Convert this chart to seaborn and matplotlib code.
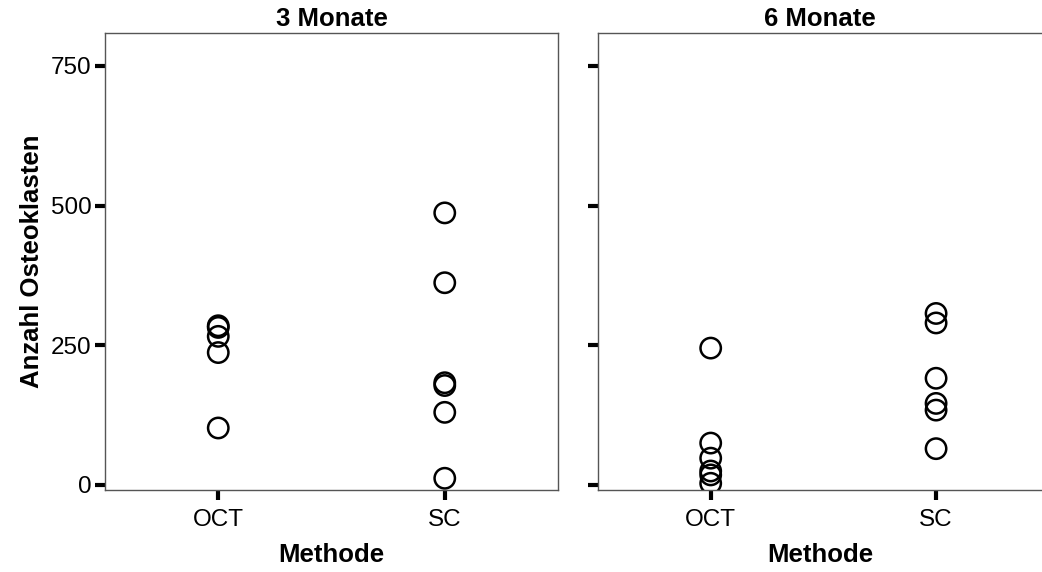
import matplotlib
matplotlib.use("Agg")
import matplotlib.pyplot as plt
import seaborn as sns
import pandas as pd

sns.set_style("white")
plt.rcParams['font.family'] = ['Liberation Sans', 'DejaVu Sans']

panels = ["3 Monate", "6 Monate"]
methods = ["OCT", "SC"]
oct_3 = [285, 282, 266, 237, 102]
sc_3 = [487, 362, 183, 178, 130, 12]
oct_6 = [245, 75, 48, 25, 18, 3]
sc_6 = [307, 290, 191, 146, 134, 65]
yticks = [0, 250, 500, 750]

rows = []
for p, o, s in [(panels[0], oct_3, sc_3), (panels[1], oct_6, sc_6)]:
    rows += [(p, methods[0], v) for v in o]
    rows += [(p, methods[1], v) for v in s]
df = pd.DataFrame(rows, columns=["Zeit", "Methode", "Anzahl"])

W, H = 1042, 572
fig = plt.figure(figsize=(W / 100, H / 100), dpi=100)
boxes = [(105, 558), (598, 1042)]
xlims = [(-0.5, 1.5), (-0.5, 1.47)]
top, bottom = 33, 490
for i, (p, (l, r)) in enumerate(zip(panels, boxes)):
    ax = fig.add_axes([l / W, 1 - bottom / H, (r - l) / W, (bottom - top) / H])
    sub = df[df["Zeit"] == p]
    sns.scatterplot(data=sub, x="Methode", y="Anzahl", ax=ax, s=215,
                    facecolor="none", edgecolor="black", linewidth=1.8)
    ax.set_xlim(*xlims[i])
    ax.set_ylim(-9, 809)
    ax.set_yticks(yticks)
    ax.set_xticks([0, 1])
    ax.set_xticklabels(methods)
    for sp in ax.spines.values():
        sp.set_color("#555555")
        sp.set_linewidth(1.0)
    if i == 1:
        ax.spines["right"].set_visible(False)
        ax.set_yticklabels([])
        ax.set_ylabel("")
    else:
        ax.set_ylabel("Anzahl Osteoklasten", fontsize=18.5, fontweight="bold",
                      color="black", labelpad=5)
    ax.tick_params(axis="y", which="major", direction="out", length=7.5, width=3,
                   color="black", labelsize=17.5, labelcolor="black", pad=2, left=True)
    ax.tick_params(axis="x", which="major", direction="out", length=7.5, width=3,
                   color="black", labelsize=17.5, labelcolor="black", pad=6, bottom=True)
    ax.set_xlabel("Methode", fontsize=18.5, fontweight="bold", color="black", labelpad=9)
    ax.set_title(p, fontsize=18.5, fontweight="bold", color="black", pad=5)

fig.savefig("out.png", dpi=100)
